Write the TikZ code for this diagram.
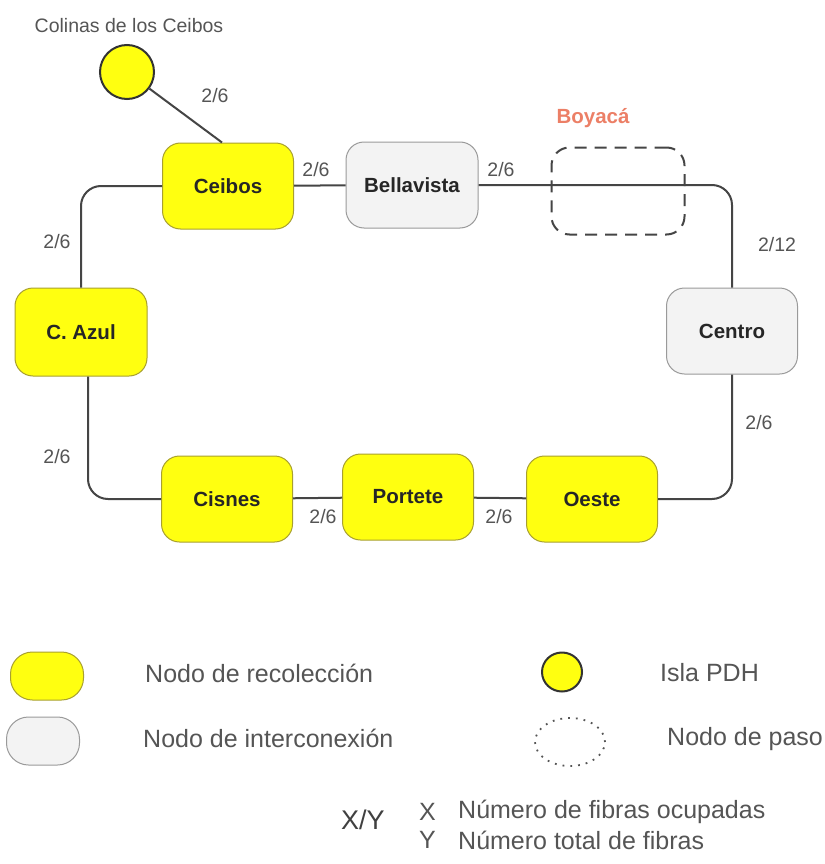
\documentclass[tikz,border=0pt]{standalone}
\usepackage{fontspec}
\setmainfont{Liberation Sans}
\usetikzlibrary{shapes.geometric}
\definecolor{ylw}{HTML}{FFFF10}
\definecolor{ylwedge}{HTML}{A8A030}
\definecolor{gfill}{HTML}{F3F3F3}
\definecolor{gedge}{HTML}{9A9A9A}
\definecolor{linec}{HTML}{454545}
\definecolor{labc}{HTML}{555555}
\definecolor{boyc}{HTML}{EC7F66}
\tikzset{
  x=1pt, y=-1pt,
  base/.style={rounded corners=18pt, minimum width=131pt, minimum height=86pt, inner sep=0pt,
    font=\fontsize{20.5}{23}\selectfont\bfseries, text=black!85},
  ynode/.style={base, fill=ylw, draw=ylwedge, line width=1pt},
  gnode/.style={base, fill=gfill, draw=gedge, line width=1pt},
  pnode/.style={base, draw=linec, line width=2pt, dash pattern=on 12pt off 8pt},
  link/.style={draw=linec, line width=2pt},
  lab/.style={font=\fontsize{19.5}{21}\selectfont, text=labc, inner sep=0pt},
  leg/.style={font=\fontsize{25}{28}\selectfont, text=labc, inner sep=0pt, anchor=west},
}
\begin{document}
\begin{tikzpicture}
\useasboundingbox (0,0) rectangle (824,864);
\fill[white] (0,0) rectangle (824,864);
% nodes
\node[font=\fontsize{19.5}{21}\selectfont, text=labc] (colt) at (129,26) {Colinas de los Ceibos};
\node[circle, fill=ylw, draw=black!80, line width=2pt, minimum size=54pt, inner sep=0pt] (isla) at (127,72) {};
\node[ynode] (ceibos) at (228,186) {Ceibos};
\node[gnode, minimum width=132pt] (bella) at (412,185) {Bellavista};
\node[gnode] (centro) at (732,331) {Centro};
\node[ynode, minimum width=132pt, minimum height=88pt] (cazul) at (81,332) {C. Azul};
\node[ynode] (cisnes) at (227,499) {Cisnes};
\node[ynode] (portete) at (408,497) {Portete};
\node[ynode] (oeste) at (592,499) {Oeste};
% links
\draw[link] (isla) -- (ceibos.north -| 222,0);
\draw[link] (ceibos) -- (bella);
\draw[link, rounded corners=20pt] (ceibos.west) -| (cazul.north);
\draw[link, rounded corners=20pt] (cazul.south -| 88,0) |- (cisnes.west);
\draw[link] (cisnes) -- (portete);
\draw[link] (portete) -- (oeste);
\draw[link, rounded corners=20pt] (oeste.east) -| (centro.south);
\draw[link, rounded corners=20pt] (bella.east) -| (centro.north);
% Boyaca (nodo de paso)
\node[pnode, minimum width=133pt, minimum height=87pt] (boyaca) at (618,191) {};
\node[font=\fontsize{20.5}{22}\selectfont\bfseries, text=boyc] (boyt) at (593,118) {Boyacá};
% fiber labels
\node[lab] (l1) at (215,96) {2/6};
\node[lab] (l2) at (316,170) {2/6};
\node[lab] (l3) at (501,170) {2/6};
\node[lab] (l4) at (777,245) {2/12};
\node[lab] (l5) at (57,242) {2/6};
\node[lab] (l6) at (57,457) {2/6};
\node[lab] (l7) at (323,517) {2/6};
\node[lab] (l8) at (499,517) {2/6};
\node[lab] (l9) at (759,423) {2/6};
% legend
\node[rounded corners=22pt, minimum width=73pt, minimum height=48pt, fill=ylw, draw=ylwedge, line width=1pt] (lg1) at (47,676) {};
\node[leg] (lt1) at (145,673) {Nodo de recolección};
\node[rounded corners=22pt, minimum width=73pt, minimum height=48pt, fill=gfill, draw=gedge, line width=1pt] (lg2) at (43,741) {};
\node[leg] (lt2) at (143,738) {Nodo de interconexión};
\node[ellipse, minimum width=40pt, minimum height=39pt, inner sep=0pt, fill=ylw, draw=black!80, line width=2pt] (lg3) at (562,672) {};
\node[leg] (lt3) at (660,673) {Isla PDH};
\node[ellipse, minimum width=70pt, minimum height=48pt, inner sep=0pt, draw=labc, line width=1.8pt, dash pattern=on 1.8pt off 6pt] (lg4) at (570,742) {};
\node[leg] (lt4) at (667,739) {Nodo de paso};
\node[leg, font=\fontsize{27}{30}\selectfont, text=black!75] (xy) at (341,820) {X/Y};
\node[leg] (lx) at (419,812) {X};
\node[leg] (lxt) at (458,812) {Número de fibras ocupadas};
\node[leg] (ly) at (419,840) {Y};
\node[leg] (lyt) at (458,840) {Número total de fibras};
\end{tikzpicture}
\end{document}
